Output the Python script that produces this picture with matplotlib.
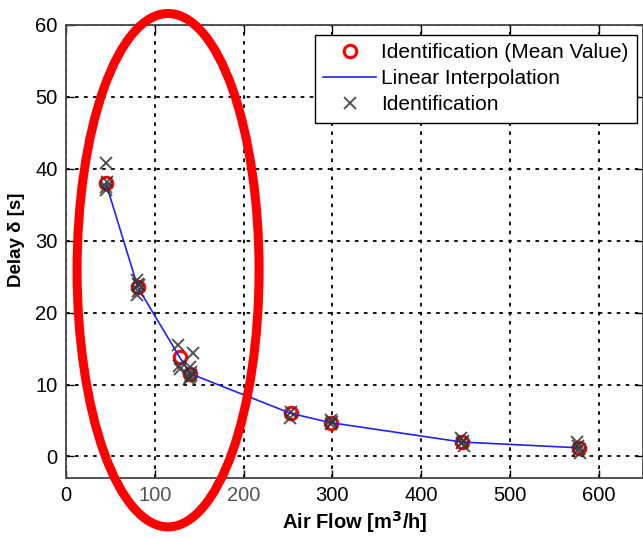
import matplotlib
matplotlib.use("Agg")
import matplotlib.pyplot as plt
from matplotlib.patches import Ellipse

# Mean values (red circles) and linear interpolation
mean_flow = [45, 81, 128, 140, 253, 298, 446, 578]
mean_delay = [38.0, 23.5, 13.8, 11.5, 6.0, 4.7, 2.0, 1.2]

# Individual identifications (x markers)
id_flow = [45, 45, 45, 46,
           80, 81, 81, 80, 82,
           126, 143, 128, 127,
           140, 141, 140, 139, 141,
           252, 253,
           298, 299, 300,
           445, 447, 448, 446,
           576, 578, 579, 577]
id_delay = [40.8, 37.0, 37.5, 38.2,
            24.5, 24.0, 23.0, 22.5, 23.8,
            15.5, 14.4, 12.1, 12.6,
            12.5, 11.8, 11.0, 10.8, 11.3,
            5.3, 6.2,
            5.1, 4.5, 4.8,
            2.6, 2.1, 1.5, 1.8,
            2.0, 1.0, 0.5, 1.5]

xticks = [0, 100, 200, 300, 400, 500, 600]
yticks = [0, 10, 20, 30, 40, 50, 60]

plt.rcParams['font.family'] = ['Liberation Sans', 'DejaVu Sans']

fig = plt.figure(figsize=(6.43, 5.39), dpi=100)
ax = fig.add_axes([66/643, 61/539, 577/643, 453/539])

ax.plot(mean_flow, mean_delay, color='#2020ff', lw=1.2, zorder=3,
        label='Linear Interpolation')
ax.plot(id_flow, id_delay, ls='none', marker='x', ms=8, mew=1.4,
        color='#353535', alpha=0.85, zorder=4, label='Identification')
ax.plot(mean_flow, mean_delay, ls='none', marker='o', ms=9, mew=2.2,
        mfc='none', mec='red', zorder=2, label='Identification (Mean Value)')

ax.set_xlim(0, 650)
ax.set_ylim(-3, 60)
ax.set_xticks(xticks)
ax.set_yticks(yticks)
ax.tick_params(direction='in', top=True, right=True, length=6, width=1,
               labelsize=14.5, pad=6)
for lbl in ax.get_xticklabels():
    if lbl.get_text() in ('100', '200'):
        lbl.set_color('#555555')

ax.grid(True, color='black', linestyle=(0, (2, 3)), lw=1.3)
for s in ax.spines.values():
    s.set_color('#444444')
    s.set_linewidth(1.3)

ax.set_xlabel('Air Flow [m$^{\\mathbf{3}}$/h]', fontsize=14.5, fontweight='bold', labelpad=3)
ax.set_ylabel('Delay δ [s]', fontsize=13.5, fontweight='bold')
ax.yaxis.set_label_coords(-0.071, 0.525)

h, l = ax.get_legend_handles_labels()
order = [2, 0, 1]
leg = ax.legend([h[i] for i in order], [l[i] for i in order],
                loc='upper right', bbox_to_anchor=(0.9896, 0.978),
                fontsize=15, frameon=True, fancybox=False, framealpha=1,
                edgecolor='black', borderpad=0.4, labelspacing=0.34,
                handlelength=2.55, handletextpad=0.25, borderaxespad=0.0)
leg.get_frame().set_linewidth(1.0)
leg.set_zorder(6)

ell = Ellipse((115, 25.9), 205, 71.4, fill=False, ec='#ff0000', lw=6.5,
              clip_on=False, zorder=7)
ax.add_patch(ell)

fig.savefig('out.png', dpi=100)
